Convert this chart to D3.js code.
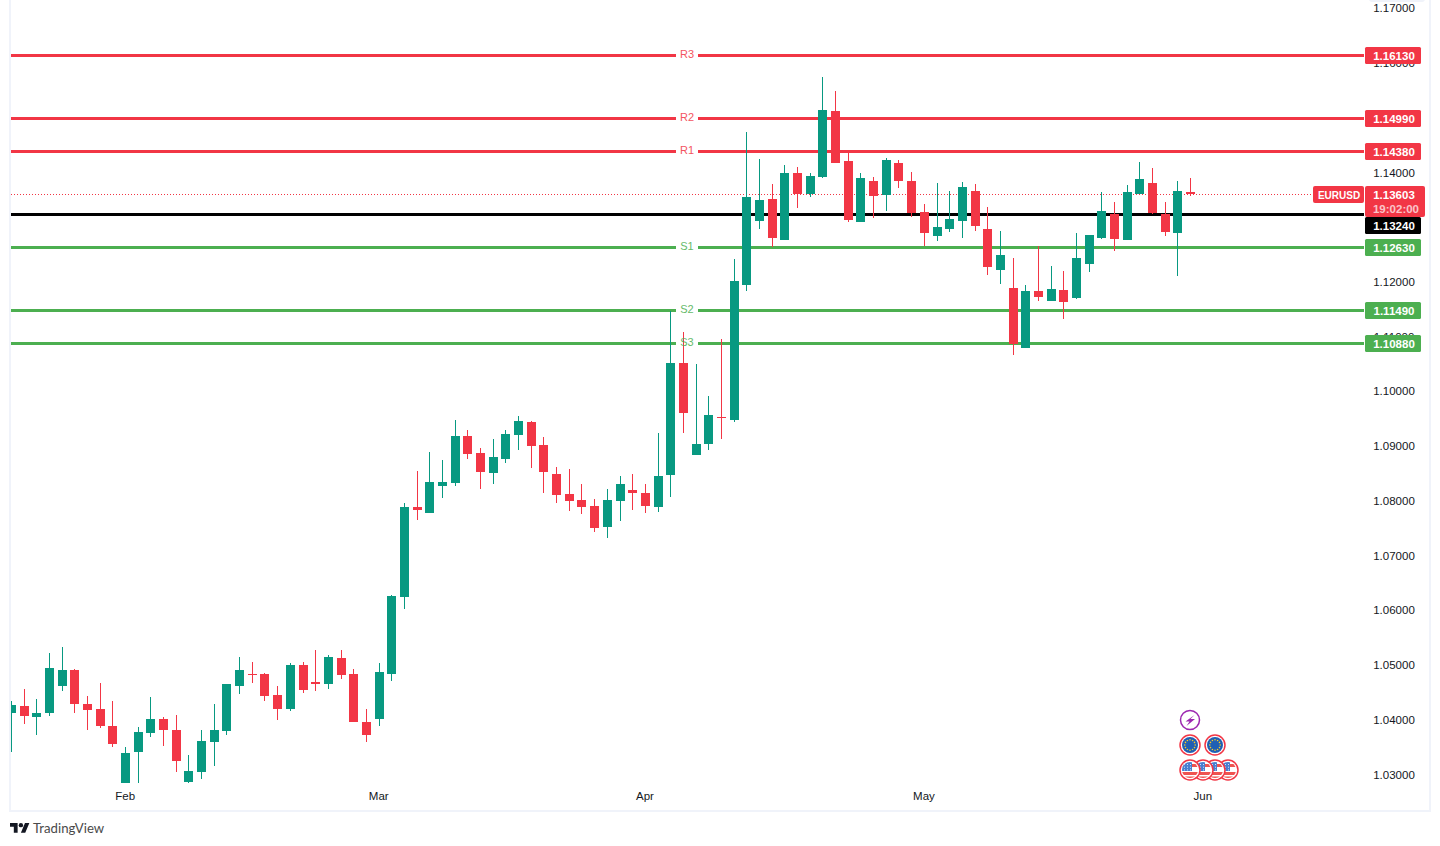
<!DOCTYPE html>
<html>
<head>
<meta charset="utf-8">
<script src="https://cdn.jsdelivr.net/npm/d3@7"></script>
<style>
    body { margin: 0; background: #ffffff; }
    text { font-family: "Liberation Sans", sans-serif; }
    .axis text { font-size: 11.5px; fill: #131722; }
    .axis path, .axis line { display: none; }
</style>
</head>
<body>
<div id="chart"></div>
<script>
const opens = [1.04116,1.04244,1.04043,1.04116,1.04609,1.04901,1.0428,1.04189,1.03878,1.02837,
    1.03403,1.0375,1.04006,1.03805,1.02855,1.03038,1.03586,1.03787,1.04609,1.04828,
    1.04828,1.04445,1.04189,1.04993,1.04682,1.04646,1.05121,1.04828,1.03951,1.04006,
    1.04828,1.06235,1.07879,1.07769,1.08263,1.08318,1.09176,1.08866,1.085,1.08756,
    1.09195,1.09432,1.09012,1.08482,1.08117,1.08007,1.07897,1.07514,1.07989,1.0819,
    1.08135,1.07879,1.08464,1.1051,1.0883,1.09031,1.09524,1.09469,1.11935,1.13105,
    1.13507,1.12758,1.13982,1.13598,1.13909,1.15114,1.14201,1.13086,1.13836,1.1358,
    1.14164,1.13836,1.13269,1.12831,1.12959,1.13105,1.13653,1.12959,1.1221,1.11881,
    1.10784,1.11826,1.11643,1.11844,1.11698,1.12319,1.12794,1.13233,1.12758,1.13598,
    1.13799,1.13233,1.12886,1.1364];
const highs = [1.04335,1.04554,1.04372,1.05212,1.05322,1.0492,1.04426,1.04664,1.04335,1.03495,
    1.0386,1.04408,1.04043,1.04079,1.03349,1.03805,1.0428,1.04646,1.05139,1.05048,
    1.04847,1.04609,1.05029,1.05048,1.05267,1.05176,1.05267,1.0492,1.04189,1.05029,
    1.06272,1.07952,1.08537,1.08884,1.08738,1.09469,1.09286,1.08957,1.09121,1.09286,
    1.09542,1.0945,1.09158,1.0861,1.08573,1.08299,1.08025,1.08208,1.08445,1.08482,
    1.08299,1.09231,1.1146,1.11077,1.10492,1.09908,1.10949,1.1241,1.14731,1.14238,
    1.13781,1.14128,1.14091,1.13982,1.15736,1.1548,1.14347,1.13982,1.13909,1.14256,
    1.14219,1.14,1.13415,1.13799,1.13653,1.13817,1.13781,1.13361,1.12922,1.12429,
    1.11935,1.12648,1.12283,1.12191,1.12886,1.12849,1.13635,1.13452,1.13762,1.14183,
    1.14073,1.13452,1.13836,1.1389];
const lows = [1.03403,1.03915,1.03714,1.04061,1.04518,1.04116,1.03805,1.03842,1.03495,1.02837,
    1.02837,1.03677,1.03513,1.03038,1.02837,1.0291,1.03148,1.03714,1.04463,1.04664,
    1.04335,1.03988,1.04152,1.04481,1.04518,1.04554,1.04737,1.03951,1.03586,1.03878,
    1.04701,1.06016,1.07642,1.07769,1.08044,1.08263,1.08756,1.08208,1.08299,1.08683,
    1.0892,1.08592,1.08135,1.07952,1.07806,1.07751,1.07422,1.07313,1.07623,1.07824,
    1.07769,1.07788,1.08062,1.09232,1.0883,1.08921,1.09122,1.09432,1.11826,1.12959,
    1.1263,1.12758,1.13342,1.13543,1.1389,1.14164,1.13086,1.13086,1.1316,1.13287,
    1.13708,1.13178,1.12648,1.12739,1.12904,1.12794,1.12922,1.12118,1.11954,1.10657,
    1.10784,1.11643,1.11643,1.11314,1.1168,1.12173,1.12776,1.12557,1.12758,1.13598,
    1.13233,1.12831,1.121,1.13562];
const closes = [1.04262,1.04061,1.04116,1.04938,1.04901,1.0428,1.04171,1.03878,1.0355,1.03385,
    1.03769,1.04006,1.03805,1.03239,1.03056,1.03604,1.03805,1.04646,1.04901,1.0481,
    1.04426,1.04189,1.04993,1.04536,1.04646,1.05139,1.0481,1.03951,1.03714,1.04865,
    1.06254,1.07879,1.07824,1.08336,1.08336,1.09176,1.08847,1.08519,1.08793,1.09213,
    1.0945,1.08994,1.08519,1.08098,1.07989,1.07879,1.07495,1.08007,1.08299,1.08135,
    1.07897,1.08445,1.1051,1.09597,1.09031,1.0956,1.09506,1.12009,1.13543,1.13488,
    1.12794,1.13982,1.13598,1.13927,1.15133,1.14164,1.13123,1.1389,1.13562,1.14219,
    1.13836,1.13251,1.12886,1.12995,1.13141,1.13726,1.13013,1.12264,1.12484,1.10858,
    1.11826,1.11716,1.11862,1.11625,1.12429,1.12849,1.13287,1.12776,1.13635,1.13872,
    1.13251,1.12904,1.13653,1.13603];

const levelNames = ["R3","R2","R1","S1","S2","S3"];
const levelValues = [1.1613,1.1499,1.1438,1.1263,1.1149,1.1088];
const pivotValue = 1.1324;
const lastPrice = 1.13603;
const countdown = "19:02:00";
const symbol = "EURUSD";

const priceTicks = [1.17,1.16,1.15,1.14,1.13,1.12,1.11,1.10,1.09,1.08,1.07,1.06,1.05,1.04,1.03];
const monthLabels = ["Feb","Mar","Apr","May","Jun"];
const monthIndexes = [9,29,50,72,94];

const width = 1440;
const height = 846;
const plot = {left: 11, right: 1364, bottom: 810};
const red = "#f23645";
const green = "#089981";
const levelGreen = "#4caf50";

const svg = d3.select("#chart")
    .append("svg")
    .attr("width", width)
    .attr("height", height)
    .style("display", "block");

const xScale = d3.scaleLinear()
    .domain([0, 93])
    .range([11.2, 1190.4]);
const yScale = d3.scaleLinear()
    .domain([1.03, 1.14])
    .range([774, 172]);
// horizontal levels sit on whole pixels, so they get their own fit between R3 and S3
const levelScale = d3.scaleLinear()
    .domain([1.1088, 1.1613])
    .range([343.5, 55.5]);
const levelY = function(v) { return Math.floor(levelScale(v)+0.01)+0.5; };
const wickX = function(i) { return Math.round(xScale(i)-0.3); };

// chart frame
svg.append("path")
    .attr("d", `M10,0V811H1430V0`)
    .attr("fill", "none")
    .attr("stroke", "#f0f3fa")
    .attr("stroke-width", 2);
svg.append("rect")
    .attr("x", 1369).attr("y", -8)
    .attr("width", 56).attr("height", 10).attr("rx", 3)
    .attr("fill", "#f0f3fa");

svg.append("defs").append("clipPath")
    .attr("id", "plotClip")
    .append("rect")
    .attr("x", plot.left).attr("y", 0)
    .attr("width", plot.right-plot.left).attr("height", plot.bottom);

// axes
svg.append("g")
    .attr("class", "axis")
    .attr("transform", "translate(1394,0.4)")
    .call(d3.axisRight(yScale).tickValues(priceTicks).tickSize(0).tickPadding(0).tickFormat(d3.format(".5f")))
    .selectAll("text").attr("text-anchor", "middle");
svg.append("g")
    .attr("class", "axis")
    .attr("transform", "translate(-0.7,792)")
    .call(d3.axisBottom(xScale).tickValues(monthIndexes).tickSize(0).tickPadding(0)
        .tickFormat(function(d, i) { return monthLabels[i]; }));

const lines = svg.append("g").attr("clip-path", "url(#plotClip)");

// last price dotted line
lines.append("line")
    .attr("x1", plot.left).attr("x2", 1313)
    .attr("y1", Math.round(yScale(lastPrice))+0.5).attr("y2", Math.round(yScale(lastPrice))+0.5)
    .attr("stroke", red)
    .attr("stroke-dasharray", "1,2");

// pivot line
lines.append("line")
    .attr("x1", plot.left).attr("x2", plot.right)
    .attr("y1", levelY(pivotValue)).attr("y2", levelY(pivotValue))
    .attr("stroke", "#000000")
    .attr("stroke-width", 3);

// resistance and support lines, split around their label
const levelColor = function(i) { return levelNames[i][0] == "R" ? red : levelGreen; };
[[plot.left, 676], [698, plot.right]].forEach(function(seg) {
    lines.selectAll(null)
        .data(levelValues)
        .enter()
        .append("line")
            .attr("x1", seg[0]).attr("x2", seg[1])
            .attr("y1", function(d) { return levelY(d); })
            .attr("y2", function(d) { return levelY(d); })
            .attr("stroke", function(d, i) { return levelColor(i); })
            .attr("stroke-width", 3);
});

// candles
const candles = svg.append("g")
    .attr("clip-path", "url(#plotClip)")
    .attr("shape-rendering", "crispEdges")
    .selectAll("g")
    .data(opens)
    .enter()
    .append("g")
    .attr("fill", function(d, i) { return closes[i] >= opens[i] ? green : red; });

candles.append("rect")
    .attr("x", function(d, i) { return wickX(i); })
    .attr("y", function(d, i) { return yScale(highs[i]); })
    .attr("width", 1)
    .attr("height", function(d, i) { return yScale(lows[i])-yScale(highs[i]); });
candles.append("rect")
    .attr("x", function(d, i) { return wickX(i)-4; })
    .attr("y", function(d, i) { return yScale(Math.max(opens[i], closes[i])); })
    .attr("width", 9)
    .attr("height", function(d, i) { return Math.max(1, Math.abs(yScale(opens[i])-yScale(closes[i]))); });

// level names in the gap of each line
svg.selectAll(".levelName")
    .data(levelNames)
    .enter()
    .append("text")
        .attr("class", "levelName")
        .attr("x", 687)
        .attr("y", function(d, i) { return levelY(levelValues[i])-1.2; })
        .attr("dy", "0.35em")
        .attr("text-anchor", "middle")
        .attr("font-size", 11)
        .attr("fill", function(d, i) { return levelColor(i); })
        .attr("opacity", 0.85)
        .text(function(d) { return d; });

// price labels on the right
const priceLabel = function(value, fill, y) {
    svg.append("rect")
        .attr("x", 1365).attr("y", y-8.5)
        .attr("width", 56).attr("height", 17).attr("rx", 1.5)
        .attr("fill", fill);
    svg.append("text")
        .attr("x", 1394).attr("y", y+0.5)
        .attr("dy", "0.35em")
        .attr("text-anchor", "middle")
        .attr("font-size", 11.5)
        .attr("font-weight", 700)
        .attr("fill", "#ffffff")
        .text(d3.format(".5f")(value));
};
levelValues.forEach(function(d, i) { priceLabel(d, levelColor(i), levelY(d)); });
// the pivot label is pushed down by the last price label
priceLabel(pivotValue, "#000000", 225.5);

// last price label
svg.append("rect")
    .attr("x", 1365).attr("y", 186)
    .attr("width", 60).attr("height", 31).attr("rx", 2)
    .attr("fill", red);
svg.append("text")
    .attr("x", 1394).attr("y", 195)
    .attr("dy", "0.35em")
    .attr("text-anchor", "middle")
    .attr("font-size", 11.5)
    .attr("font-weight", 700)
    .attr("fill", "#ffffff")
    .text(d3.format(".5f")(lastPrice));
svg.append("text")
    .attr("x", 1396).attr("y", 209)
    .attr("dy", "0.35em")
    .attr("text-anchor", "middle")
    .attr("font-size", 11.5)
    .attr("font-weight", 700)
    .attr("fill", "#ffffff")
    .attr("opacity", 0.7)
    .text(countdown);
svg.append("rect")
    .attr("x", 1313).attr("y", 186)
    .attr("width", 51).attr("height", 17).attr("rx", 2)
    .attr("fill", red);
svg.append("text")
    .attr("x", 1339).attr("y", 195)
    .attr("dy", "0.35em")
    .attr("text-anchor", "middle")
    .attr("font-size", 10)
    .attr("font-weight", 700)
    .attr("fill", "#ffffff")
    .text(symbol);

// event markers
const markers = svg.append("g");
markers.append("circle")
    .attr("cx", 1190).attr("cy", 720).attr("r", 9.5)
    .attr("fill", "#ffffff").attr("stroke", "#9c27b0").attr("stroke-width", 1.5);
markers.append("path")
    .attr("d", "M1194.5,715L1185.5,721.5H1189.5L1186.5,726L1195,719H1190.5Z")
    .attr("fill", "#9c27b0");

const defs = svg.select("defs");
defs.append("clipPath").attr("id", "flagClip").append("circle").attr("r", 8);

const euMarker = function(cx) {
    const g = markers.append("g").attr("transform", `translate(${cx},745)`);
    g.append("circle").attr("r", 10).attr("fill", "#ffffff").attr("stroke", red).attr("stroke-width", 1.5);
    g.append("circle").attr("r", 8).attr("fill", "#1f5fb4");
    d3.range(12).forEach(function(k) {
        const a = k*Math.PI/6;
        g.append("circle")
            .attr("cx", 5.2*Math.cos(a)).attr("cy", 5.2*Math.sin(a)).attr("r", 0.8)
            .attr("fill", "#f5c928");
    });
};
const usMarker = function(cx) {
    const g = markers.append("g").attr("transform", `translate(${cx},770)`);
    g.append("circle").attr("r", 10).attr("fill", "#ffffff").attr("stroke", red).attr("stroke-width", 1.5);
    const f = g.append("g").attr("clip-path", "url(#flagClip)");
    f.append("rect").attr("x", -8).attr("y", -8).attr("width", 16).attr("height", 16).attr("fill", "#ffffff");
    [-4.5, 3.5, 8].forEach(function(y) {
        f.append("rect").attr("x", -8).attr("y", y-1.5).attr("width", 16).attr("height", 3).attr("fill", "#ef5350");
    });
    f.append("rect").attr("x", -8).attr("y", -8).attr("width", 10).attr("height", 9).attr("fill", "#4a7fd0");
    d3.range(3).forEach(function(a) {
        d3.range(3).forEach(function(b) {
            f.append("rect")
                .attr("x", -6+a*3).attr("y", -6+b*2.7)
                .attr("width", 1).attr("height", 1)
                .attr("fill", "#cfe0fb");
        });
    });
};
euMarker(1215);
euMarker(1190);
usMarker(1228);
usMarker(1215);
usMarker(1203);
usMarker(1190);

// TradingView logo and name
const logo = svg.append("g")
    .attr("transform", "translate(10,820.8) scale(0.545)")
    .attr("fill", "#131722");
logo.append("path").attr("d", "M14 22H7V11H0V4h14v18zM28 22h-8l7.5-18h8L28 22z");
logo.append("circle").attr("cx", 20).attr("cy", 8).attr("r", 4);
svg.append("text")
    .attr("x", 33).attr("y", 833)
    .attr("font-size", 13.2)
    .attr("fill", "#4a4a4a")
    .style("font-family", "Lato")
    .text("TradingView");
</script>
</body>
</html>
